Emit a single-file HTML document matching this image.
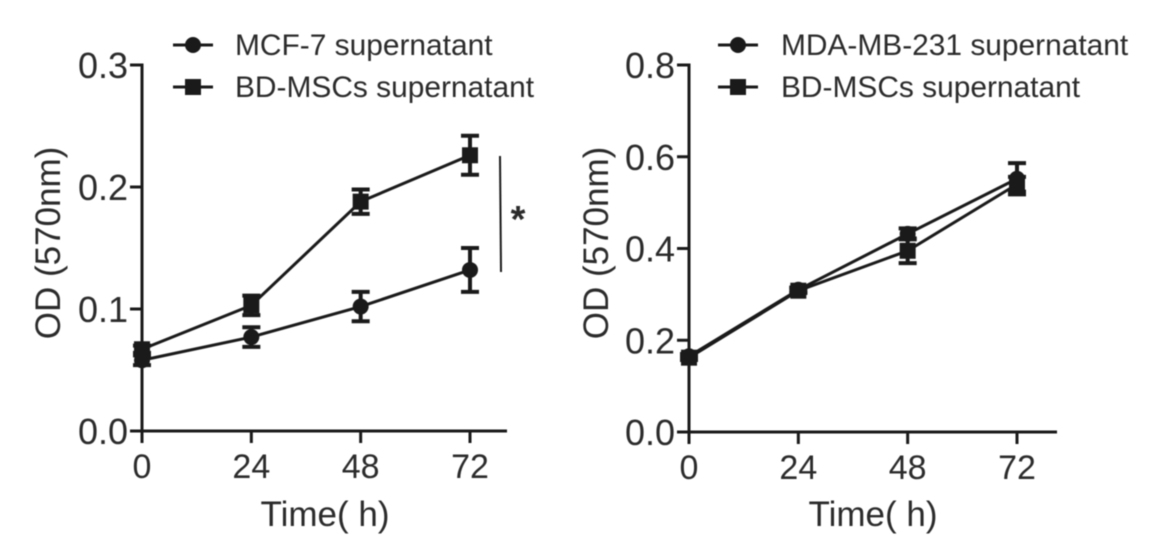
<!DOCTYPE html>
<html lang="en">
<head>
<meta charset="utf-8">
<title>OD (570nm) over time</title>
<style>
html,body{margin:0;padding:0;background:#fff}
svg{display:block;filter:blur(0.5px)}
text{font-family:"Liberation Sans",sans-serif;fill:#2b2b2b}
.tick{font-size:36px}
.xtick{font-size:34px}
.title{font-size:35px}
.legend{font-size:29.9px}
</style>
</head>
<body>
<svg id="chart" width="1164" height="560" viewBox="0 0 1164 560" xmlns="http://www.w3.org/2000/svg"></svg>
<script>
const timeCategories = [0, 24, 48, 72];

const leftYTicks = ["0.0", "0.1", "0.2", "0.3"];
const leftCellLineValues = [0.058, 0.077, 0.102, 0.132];
const leftCellLineErrors = [0.004, 0.008, 0.012, 0.018];
const leftStemCellValues = [0.067, 0.103, 0.188, 0.226];
const leftStemCellErrors = [0.003, 0.008, 0.010, 0.016];

const rightYTicks = ["0.0", "0.2", "0.4", "0.6", "0.8"];
const rightCellLineValues = [0.165, 0.310, 0.432, 0.552];
const rightCellLineErrors = [0.005, 0.005, 0.012, 0.034];
const rightStemCellValues = [0.162, 0.308, 0.395, 0.540];
const rightStemCellErrors = [0.005, 0.005, 0.027, 0.016];

const NS = 'http://www.w3.org/2000/svg';
const root = document.getElementById('chart');
const INK = '#1a1a1a';

function make(parent, tag, attrs, text) {
  const el = document.createElementNS(NS, tag);
  for (const k in attrs) el.setAttribute(k, attrs[k]);
  if (text !== undefined) el.textContent = text;
  parent.appendChild(el);
  return el;
}

function drawMarker(parent, kind, cx, cy) {
  let m;
  if (kind === 'circle') {
    m = make(parent, 'circle', { cx: cx, cy: cy, r: 8, fill: INK });
  } else {
    m = make(parent, 'rect', { x: cx - 8, y: cy - 8, width: 16, height: 16, fill: INK });
  }
  return m;
}

function drawPanel(cfg) {
  const g = make(root, 'g', {});
  
  

  const xScale = v => cfg.x0 + (v / 72) * (cfg.x72 - cfg.x0);
  const yScale = v => cfg.y0 + (v / cfg.yMax) * (cfg.yTop - cfg.y0);

  const yAxis = make(g, 'line', { x1: cfg.x0, y1: cfg.yTop - 1.5, x2: cfg.x0, y2: cfg.y0 + 12, stroke: INK, 'stroke-width': 3 });
  
  
  const xAxis = make(g, 'line', { x1: cfg.x0 - 12, y1: cfg.y0, x2: cfg.xEnd, y2: cfg.y0, stroke: INK, 'stroke-width': 3 });
  
  

  cfg.yTicks.forEach(label => {
    const y = yScale(parseFloat(label));
    const t = make(g, 'line', { x1: cfg.x0 - 12, y1: y, x2: cfg.x0, y2: y, stroke: INK, 'stroke-width': 3 });
    
    
    const l = make(g, 'text', { x: cfg.x0 - 14, y: y + 13, 'text-anchor': 'end', class: 'tick' }, label);
    
    
  });

  timeCategories.forEach(v => {
    const x = xScale(v);
    const t = make(g, 'line', { x1: x, y1: cfg.y0, x2: x, y2: cfg.y0 + 12, stroke: INK, 'stroke-width': 3 });
    
    
    const l = make(g, 'text', { x: x, y: cfg.y0 + 47, 'text-anchor': 'middle', class: 'xtick' }, String(v));
    
    
  });

  const xTitle = make(g, 'text', { x: cfg.xTitleX, y: 526, 'text-anchor': 'middle', class: 'title' }, 'Time( h)');
  
  
  const yTitle = make(g, 'text', { x: 0, y: 0, 'text-anchor': 'middle', class: 'title', transform: 'translate(' + cfg.yTitleX + ',243) rotate(-90)' }, 'OD (570nm)');
  
  

  cfg.series.forEach(s => {
    const sg = make(g, 'g', {});
    
    
    const pts = s.values.map((v, i) => xScale(timeCategories[i]) + ',' + yScale(v)).join(' ');
    const line = make(sg, 'polyline', { points: pts, fill: 'none', stroke: INK, 'stroke-width': 3 });
    
    
    s.values.forEach((v, i) => {
      const x = xScale(timeCategories[i]);
      const hi = yScale(v + s.errors[i]);
      const lo = yScale(v - s.errors[i]);
      const bar = make(sg, 'path', {
        d: 'M' + x + ' ' + hi + 'V' + lo + 'M' + (x - 9) + ' ' + hi + 'H' + (x + 9) + 'M' + (x - 9) + ' ' + lo + 'H' + (x + 9),
        fill: 'none', stroke: INK, 'stroke-width': 4
      });
      
      
      const m = drawMarker(sg, s.marker, x, yScale(v));
      
      
    });
  });

  cfg.series.forEach((s, i) => {
    const y = 45 + i * 42;
    const lg = make(g, 'g', {});
    
    
    const ll = make(lg, 'line', { x1: cfg.legendX, y1: y, x2: cfg.legendX + 40, y2: y, stroke: INK, 'stroke-width': 3 });
    
    
    const lm = drawMarker(lg, s.marker, cfg.legendX + 20, y);
    
    
    const lt = make(lg, 'text', { x: cfg.legendTextX, y: y + 10, class: 'legend' }, s.label);
    
    
  });
}

drawPanel({
  name: 'left-panel', x0: 142, x72: 470, xEnd: 507, y0: 431, yTop: 65, yMax: 0.3,
  yTicks: leftYTicks, xTitleX: 325, yTitleX: 60, legendX: 173, legendTextX: 235,
  series: [
    { name: 'series-mcf-7', label: 'MCF-7 supernatant', marker: 'circle', values: leftCellLineValues, errors: leftCellLineErrors },
    { name: 'series-bd-mscs', label: 'BD-MSCs supernatant', marker: 'square', values: leftStemCellValues, errors: leftStemCellErrors }
  ]
});

drawPanel({
  name: 'right-panel', x0: 689, x72: 1017, xEnd: 1057, y0: 432, yTop: 65, yMax: 0.8,
  yTicks: rightYTicks, xTitleX: 873, yTitleX: 608, legendX: 718, legendTextX: 781,
  series: [
    { name: 'series-mda-mb-231', label: 'MDA-MB-231 supernatant', marker: 'circle', values: rightCellLineValues, errors: rightCellLineErrors },
    { name: 'series-bd-mscs', label: 'BD-MSCs supernatant', marker: 'square', values: rightStemCellValues, errors: rightStemCellErrors }
  ]
});

const sigLine = make(root, 'line', { x1: 500, y1: 156, x2: 501, y2: 272, stroke: INK, 'stroke-width': 2 });


const sigStar = make(root, 'text', { x: 518, y: 232, 'text-anchor': 'middle', style: 'font-size:38px;font-weight:bold' }, '*');


</script>
</body>
</html>
